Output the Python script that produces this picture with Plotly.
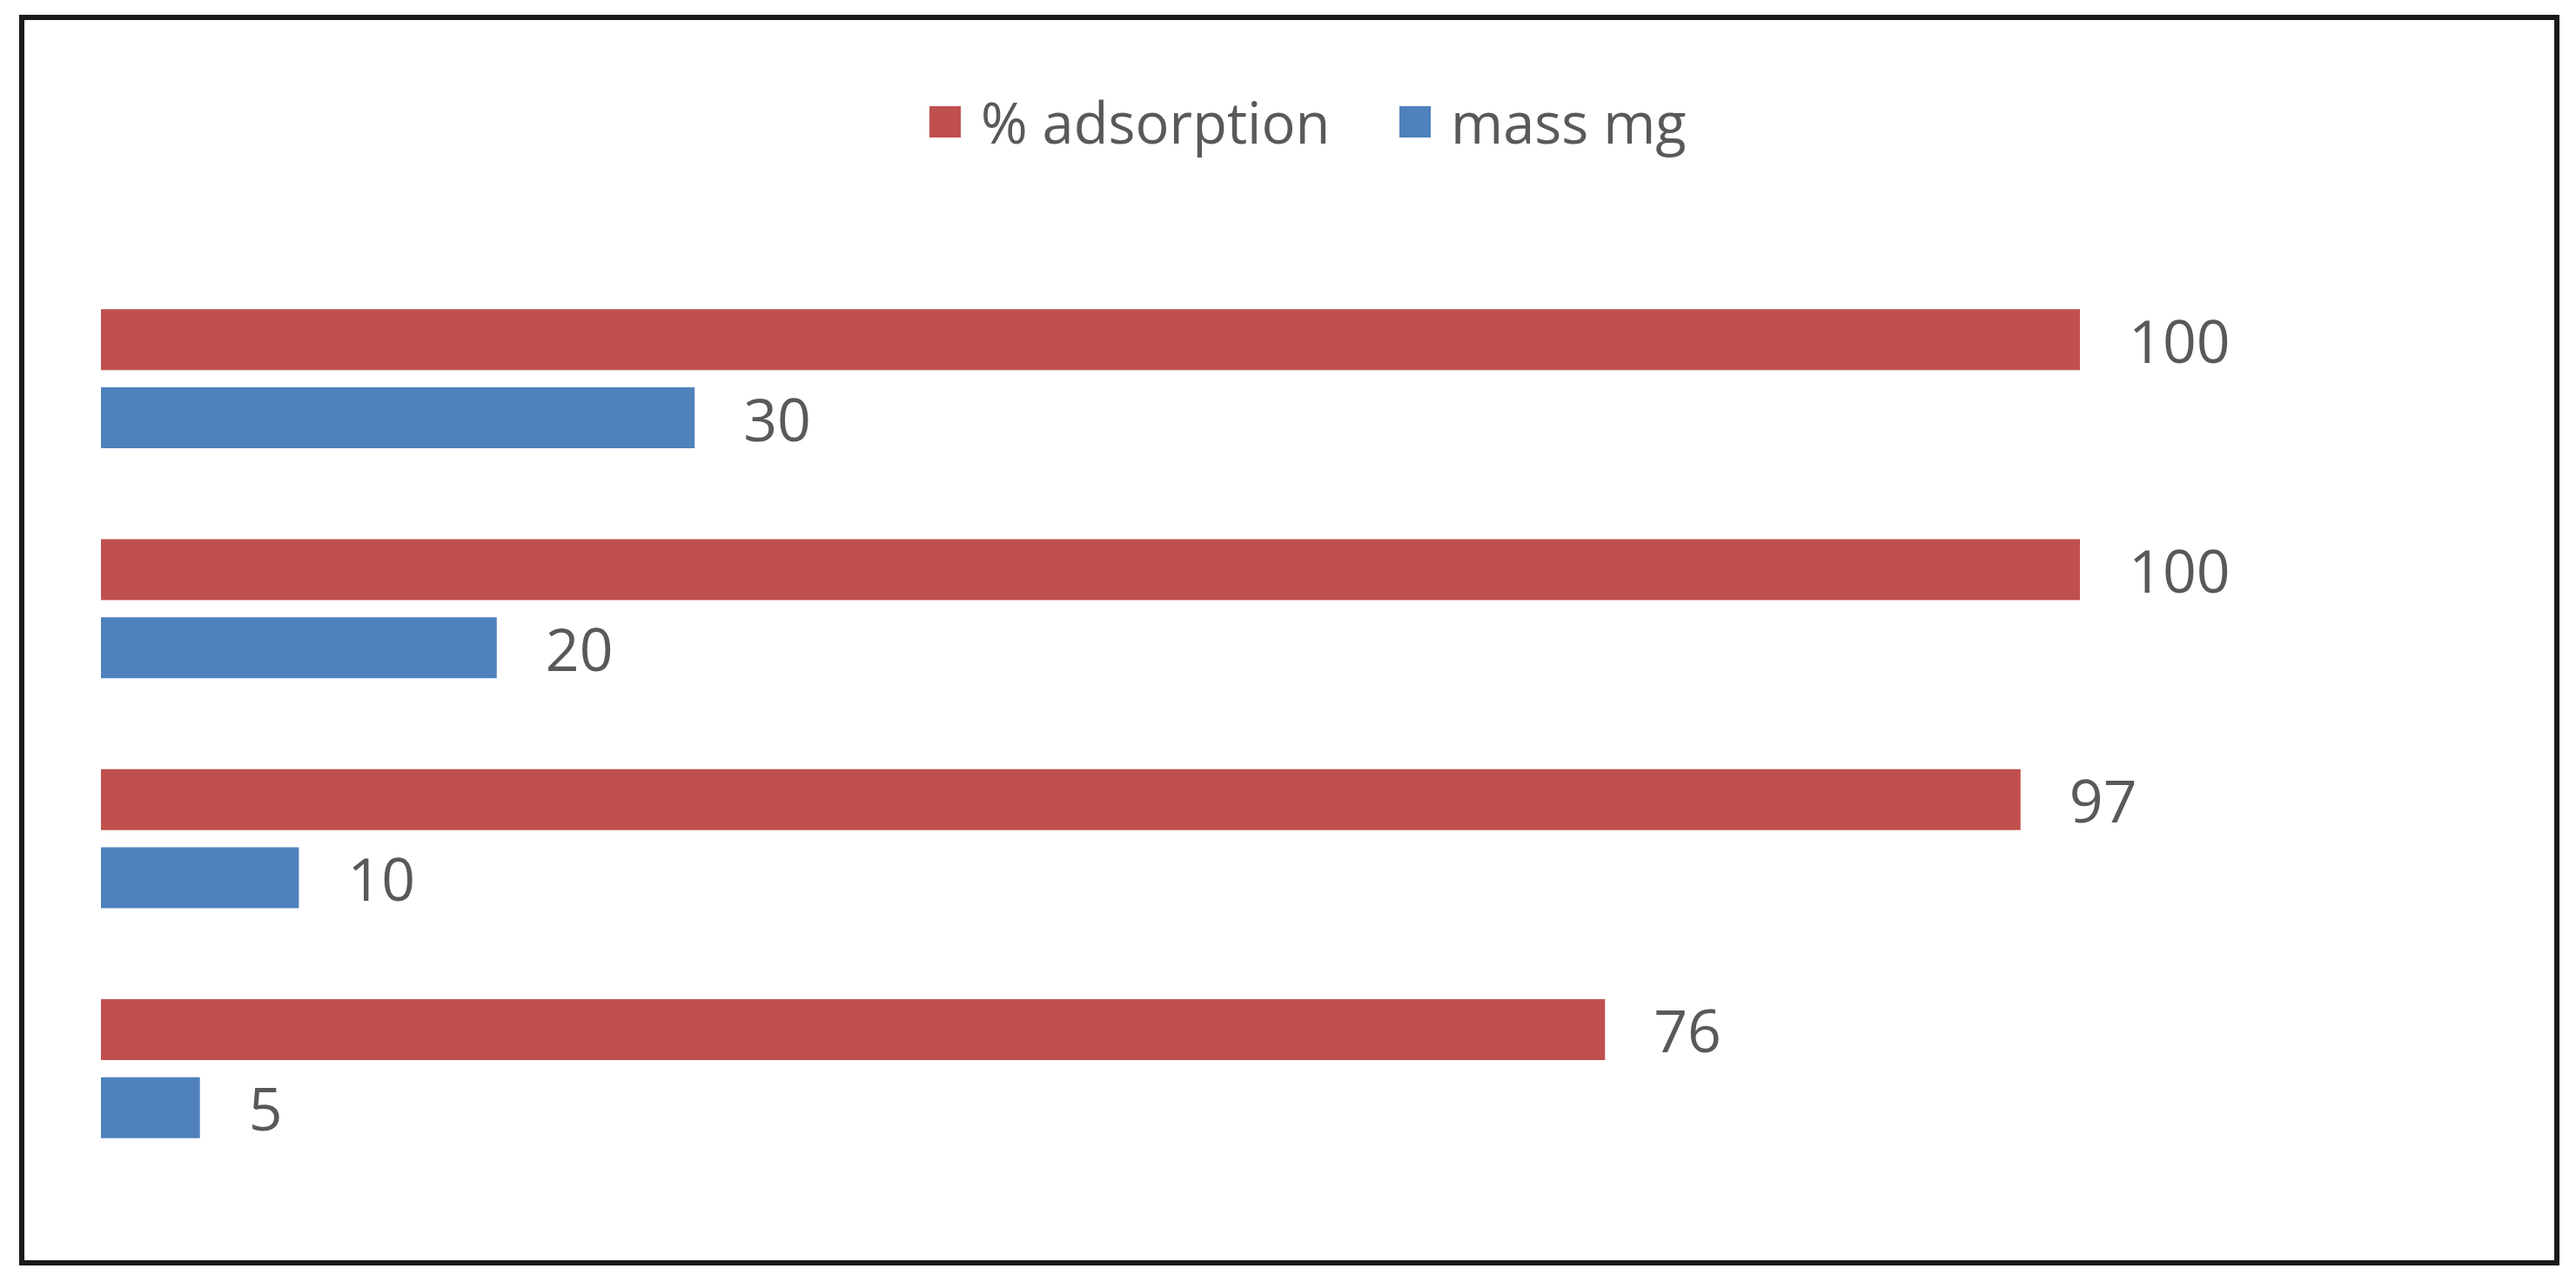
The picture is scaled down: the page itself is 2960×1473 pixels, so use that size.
import plotly.graph_objects as go

categories = ["5", "10", "20", "30"]          # bottom to top
adsorption = [76, 97, 100, 100]
mass_mg = [5, 10, 20, 30]
series_names = ["% adsorption", "mass mg"]
colors = ["#C0504D", "#4F81BD"]

# page body has an 8px margin; figure sized to fit the window
W, H = 2944, 1457
NB = "\u00a0\u00a0\u00a0"
TXT = "#595959"

left, right = 108, 2900
top, bottom = 295, 105
pw, ph = right - left, H - top - bottom
xmax = pw / ((2382 - left) / 100)


def px_x(x):
    return (x - left) / pw


def px_y(y):
    return 1 - (y - top) / ph


fig = go.Figure()
fig.add_trace(go.Bar(
    y=categories, x=mass_mg, orientation="h", name=series_names[1],
    marker=dict(color=colors[1], line=dict(width=0)),
    text=mass_mg, texttemplate=NB + "%{x}", textposition="outside",
    textfont=dict(size=68, color=TXT, family="Open Sans"),
    constraintext="none", cliponaxis=False, showlegend=False,
))
fig.add_trace(go.Bar(
    y=categories, x=adsorption, orientation="h", name=series_names[0],
    marker=dict(color=colors[0], line=dict(width=0)),
    text=adsorption, texttemplate=NB + "%{x}", textposition="outside",
    textfont=dict(size=68, color=TXT, family="Open Sans"),
    constraintext="none", cliponaxis=False, showlegend=False,
))

fig.update_layout(
    width=W, height=H,
    margin=dict(l=left, r=W - right, t=top, b=bottom, pad=0),
    paper_bgcolor="white", plot_bgcolor="white",
    barmode="group", bargap=0.319, bargroupgap=0.222,
    showlegend=False,
    xaxis=dict(range=[0, xmax], showgrid=False, zeroline=False, showticklabels=False,
               showline=False, ticks=""),
    yaxis=dict(range=[-0.5, 3.5], showgrid=False, zeroline=False, showticklabels=False,
               showline=False, ticks="", type="category"),
)

# legend (drawn to match the large square swatches)
leg_items = [(series_names[0], colors[0], 1060, 1117), (series_names[1], colors[1], 1600, 1657)]
for name, col, sx, tx in leg_items:
    fig.add_shape(type="rect", xref="paper", yref="paper",
                  x0=px_x(sx), x1=px_x(sx + 36), y0=px_y(150), y1=px_y(114),
                  fillcolor=col, line=dict(width=0))
    fig.add_annotation(text=name, xref="paper", yref="paper", x=px_x(tx), y=px_y(132),
                       xanchor="left", yanchor="middle", showarrow=False,
                       font=dict(size=65, color=TXT, family="Open Sans"))

# outer border
fig.add_shape(type="rect", xref="paper", yref="paper",
              x0=px_x(17), x1=px_x(2930), y0=px_y(1443), y1=px_y(12),
              line=dict(color="#1a1a1a", width=6), layer="above")

fig.write_html("out.html")
